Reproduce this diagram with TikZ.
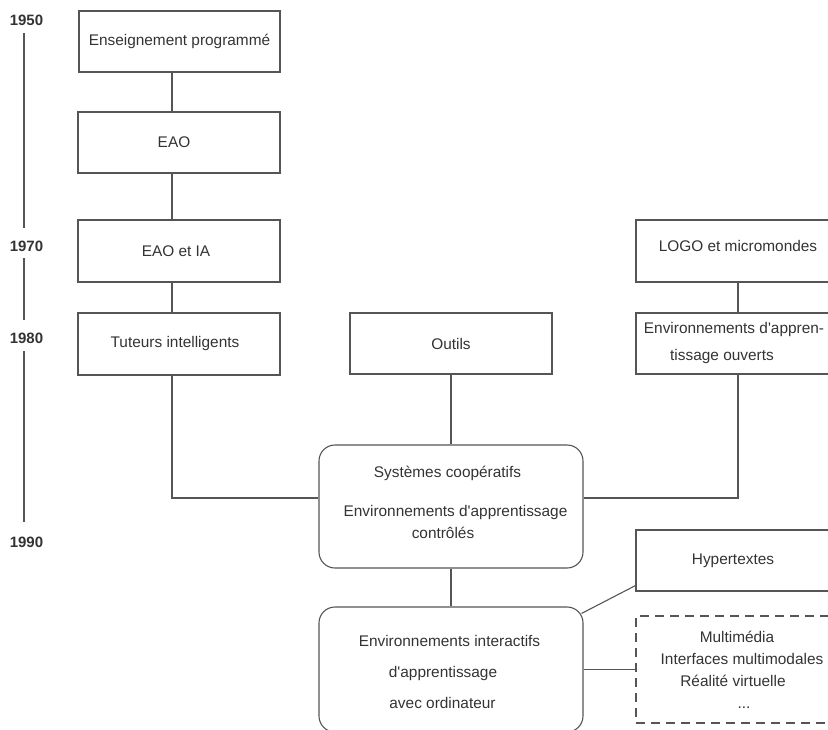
\documentclass[tikz,border=0pt]{standalone}
\usepackage{fontspec}
\setmainfont{Liberation Sans}
\definecolor{linegray}{HTML}{555555}
\definecolor{textgray}{HTML}{333333}
\newcommand{\sq}{\textquotesingle}
\begin{document}
\begin{tikzpicture}[x=1pt,y=-1pt,
  line/.style={draw=linegray, line width=1.1pt},
  box/.style={draw=linegray, line width=1.1pt, text=textgray,
    font=\fontsize{15.4}{22}\selectfont, align=center, inner sep=0pt, anchor=center},
  rbox/.style={box, rounded corners=16pt},
  dbox/.style={box, dash pattern=on 9pt off 6pt},
  year/.style={font=\bfseries\fontsize{15}{18}\selectfont, text=textgray, inner sep=0pt},
]
\useasboundingbox (0,0) rectangle (828,729);
\clip (0,0) rectangle (828,729);

% timeline
\node[year] (y1950) at (26.5,20) {1950};
\node[year] (y1970) at (26.5,246) {1970};
\node[year] (y1980) at (26.5,338) {1980};
\node[year] (y1990) at (26.5,542) {1990};
\draw[line, shorten <=7.5pt, shorten >=12.5pt] ([xshift=-2.5pt]y1950.south) -- ([xshift=-2.5pt]y1970.north);
\draw[line, shorten <=6.5pt, shorten >=12.5pt] ([xshift=-2.5pt]y1970.south) -- ([xshift=-2.5pt]y1980.north);
\draw[line, shorten <=7.5pt, shorten >=14.5pt] ([xshift=-2.5pt]y1980.south) -- ([xshift=-2.5pt]y1990.north);

% left column
\node[box, minimum width=201pt, minimum height=61pt] (ens) at (179.5,41.5) {Enseignement programmé};
\node[box, minimum width=202pt, minimum height=61pt] (eao) at (179,142.5) {\hspace*{-10pt}EAO};
\node[box, minimum width=202pt, minimum height=62pt] (eaoia) at (179,251) {\hspace*{-6pt}EAO et IA};
\node[box, minimum width=202pt, minimum height=62pt] (tut) at (179,344) {\hspace*{-8pt}Tuteurs intelligents};

% middle
\node[box, minimum width=202pt, minimum height=61pt] (outils) at (451,343.5) {Outils};

% right column
\node[box, minimum width=204pt, minimum height=62pt] (logo) at (738,251) {LOGO et micromondes\\[-12pt]\mbox{}};
\node[box, minimum width=204pt, minimum height=61pt] (ouv) at (738,343.5)
  {\hspace*{-8pt}Environnements d\sq appren-\\[5pt]\hspace*{-32pt}tissage ouverts};

% central rounded boxes
\node[rbox, minimum width=264pt, minimum height=123pt] (sys) at (451,506.5)
  {\hspace*{-7pt}Systèmes coopératifs\\[17pt]\hspace*{9pt}Environnements d\sq apprentissage\\\hspace*{-16pt}contrôlés\\[-14pt]\mbox{}};
\node[rbox, minimum width=264pt, minimum height=125pt] (eiao) at (451,669.5)
  {\mbox{}\\[-5pt]\hspace*{-3pt}Environnements interactifs\\[9pt]\hspace*{-16pt}d\sq apprentissage\\[9pt]\hspace*{-17pt}avec ordinateur};

% bottom right
\node[box, minimum width=194pt, minimum height=61pt] (hyp) at (733,560.5) {Hypertextes};
\node[dbox, minimum width=208pt, minimum height=107pt] (dash) at (740,669.5)
  {\hspace*{-6pt}Multimédia\\\hspace*{4pt}Interfaces multimodales\\\hspace*{-14pt}Réalité virtuelle\\\hspace*{8pt}...};

% connectors
\draw[line] ([xshift=-7.5pt]ens.south) -- ([xshift=-7pt]eao.north);
\draw[line] ([xshift=-7pt]eao.south) -- ([xshift=-7pt]eaoia.north);
\draw[line] ([xshift=-7pt]eaoia.south) -- ([xshift=-7pt]tut.north);
\draw[line] ([xshift=-7pt]tut.south) |- ([yshift=8.5pt]sys.west);
\draw[line] (outils.south) -- (sys.north);
\draw[line] (logo.south) -- (ouv.north);
\draw[line] ([yshift=8.5pt]sys.east) -| (ouv.south);
\draw[line] (sys.south) -- (eiao.north);
\draw[line] ([xshift=-2pt,yshift=-7pt]eiao.north east) -- ([yshift=6pt]hyp.south west);
\draw[line] (eiao.east) -- (dash.west);
\end{tikzpicture}
\end{document}
